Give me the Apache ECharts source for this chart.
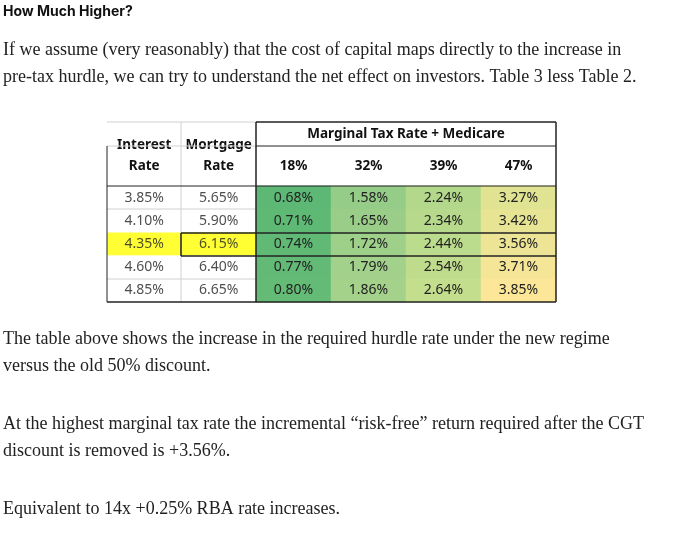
<!DOCTYPE html>
<html>
<head>
<meta charset="utf-8">
<script src="https://cdn.jsdelivr.net/npm/echarts@6/dist/echarts.min.js"></script>
<style>html,body{margin:0;background:#fff}#main{width:680px;height:540px}</style>
</head>
<body>
<div id="main"></div>
<script>
var taxRates = ['18%', '32%', '39%', '47%'];
var interestRates = ['3.85%', '4.10%', '4.35%', '4.60%', '4.85%'];
var mortgageRates = ['5.65%', '5.90%', '6.15%', '6.40%', '6.65%'];
var rowKeys = ['r1', 'r2', 'r3', 'r4', 'r5'];
// hurdle increase per row, one column per tax rate
var hurdle = [
    [0.68, 1.58, 2.24, 3.27],
    [0.71, 1.65, 2.34, 3.42],
    [0.74, 1.72, 2.44, 3.56],
    [0.77, 1.79, 2.54, 3.71],
    [0.80, 1.86, 2.64, 3.85]
];
var highlightRow = 2;

var heatData = [];
hurdle.forEach(function (row, r) {
    row.forEach(function (v, c) { heatData.push([c, r, v]); });
});
var leftData = [];
rowKeys.forEach(function (k, r) {
    [interestRates[r], mortgageRates[r]].forEach(function (txt, c) {
        leftData.push({
            value: [c, r],
            name: txt,
            itemStyle: { color: r === highlightRow ? '#ffff00' : '#ffffff' }
        });
    });
});

var serif = '"Liberation Serif", "DejaVu Serif", serif';
var tableFont = '"Noto Sans", sans-serif';
var grey = '#d0d0d0';

function line(x1, y1, x2, y2, color, w) {
    return { type: 'line', shape: { x1: x1, y1: y1, x2: x2, y2: y2 }, style: { stroke: color, lineWidth: w || 1 }, z: 10 };
}
function para(y, txt) {
    return { type: 'text', left: 3, top: y, style: { text: txt, font: '18px ' + serif, fill: '#222' } };
}

var chart = echarts.init(document.getElementById('main'));
chart.setOption({
    animation: false,
    grid: [
        { left: 256, right: 124, top: 186, bottom: 238 },
        { left: 107, width: 149, top: 186, bottom: 238 }
    ],
    xAxis: [
        { type: 'category', data: taxRates, position: 'top', gridIndex: 0,
          axisLine: { show: false }, axisTick: { show: false }, splitLine: { show: false },
          axisLabel: { margin: 13, fontFamily: tableFont, fontWeight: 'bold', fontSize: 13.5, color: '#111' } },
        { type: 'category', data: ['Interest\nRate', 'Mortgage\nRate'], position: 'top', gridIndex: 1,
          axisLine: { show: false }, axisTick: { show: false }, splitLine: { show: false },
          axisLabel: { interval: 0, margin: 9, fontFamily: tableFont, fontWeight: 'bold', fontSize: 13.5, color: '#111', lineHeight: 21 } }
    ],
    yAxis: [
        { type: 'category', data: rowKeys, inverse: true, gridIndex: 0, show: false },
        { type: 'category', data: rowKeys, inverse: true, gridIndex: 1, show: false }
    ],
    visualMap: {
        show: false, seriesIndex: 0, dimension: 2, min: 0.68, max: 3.85,
        inRange: { color: ['#5cb874', '#9fd08a', '#c9e08e', '#fbe797'] }
    },
    series: [
        { type: 'heatmap', xAxisIndex: 0, yAxisIndex: 0, data: heatData,
          label: { show: true, formatter: function (p) { return p.value[2].toFixed(2) + '%'; },
                   fontFamily: tableFont, fontSize: 14, color: '#222' } },
        { type: 'scatter', xAxisIndex: 1, yAxisIndex: 1, data: leftData,
          symbol: 'rect', symbolSize: [74.5, 23.2],
          label: { show: true, position: 'inside', formatter: '{b}',
                   fontFamily: tableFont, fontSize: 14, color: '#222' } }
    ],
    graphic: [
        { type: 'text', left: 3, top: 5, style: { text: 'How Much Higher?', font: 'bold 14px "Inter", sans-serif', fill: '#111' } },
        para(41, 'If we assume (very reasonably) that the cost of capital maps directly to the increase in'),
        para(68, 'pre-tax hurdle, we can try to understand the net effect on investors. Table 3 less Table 2.'),
        para(330, 'The table above shows the increase in the required hurdle rate under the new regime'),
        para(357, 'versus the old 50% discount.'),
        para(415, 'At the highest marginal tax rate the incremental \u201crisk-free\u201d return required after the CGT'),
        para(442, 'discount is removed is +3.56%.'),
        para(500, 'Equivalent to 14x +0.25% RBA rate increases.'),
        { type: 'text', x: 406, y: 134, style: { text: 'Marginal Tax Rate + Medicare', font: 'bold 13.5px ' + tableFont, fill: '#111', align: 'center', verticalAlign: 'middle' } },
        // light grid
        line(107, 122, 256, 122, grey), line(107, 146, 256, 146, grey),
        line(181, 122, 181, 302, grey),
        line(107, 209, 256, 209, grey), line(107, 279, 256, 279, grey),
        // dark frame
        line(256, 122, 556, 122, '#222', 1.5), line(256, 146, 556, 146, '#222', 1),
        line(107, 186, 556, 186, '#222', 1), line(107, 302, 556, 302, '#222', 1.5),
        line(107, 146, 107, 302, '#222', 1), line(556, 122, 556, 302, '#222', 1.5),
        line(256, 122, 256, 302, '#222', 1.5),
        // highlighted row
        line(181, 233, 556, 233, '#222', 1.5), line(181, 256, 556, 256, '#222', 1.5),
        line(181, 233, 181, 256, '#222', 1.5)
    ]
});
</script>
</body>
</html>
